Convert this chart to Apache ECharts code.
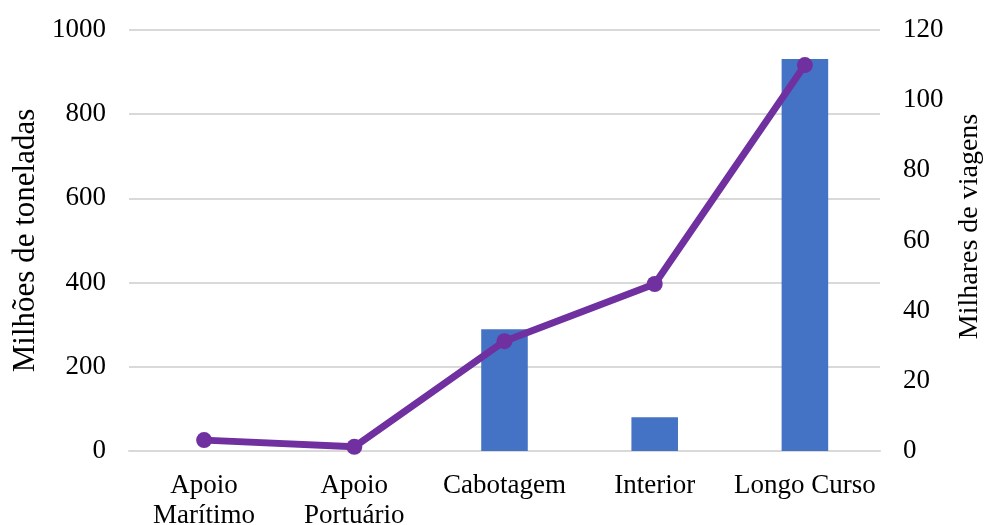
<!DOCTYPE html>
<html>
<head>
<meta charset="utf-8">
<script src="https://cdn.jsdelivr.net/npm/echarts@6/dist/echarts.min.js"></script>
<style>
html, body { margin: 0; padding: 0; background: #fff; }
#chart { width: 987px; height: 525px; }
</style>
</head>
<body>
<div id="chart"></div>
<script>
// Navigation types
const categories = ['Apoio\nMarítimo', 'Apoio\nPortuário', 'Cabotagem', 'Interior', 'Longo Curso'];
// Cargo handled (millions of tonnes)
const toneladas = [0, 0, 289, 80, 931];
// Trips (thousands)
const viagens = [3.1, 1.2, 31.3, 47.6, 110];

const leftTicks = { min: 0, max: 1000, interval: 200 };
const rightTicks = { min: 0, max: 120, interval: 20 };

const font = '"Liberation Serif", "Times New Roman", serif';

const chart = echarts.init(document.getElementById('chart'));
chart.setOption({
  animation: false,
  backgroundColor: '#ffffff',
  textStyle: { fontFamily: font },
  grid: { left: 129, right: 107, top: 30, bottom: 74, containLabel: false, outerBoundsMode: 'none' },
  xAxis: {
    type: 'category',
    data: categories,
    axisLine: { show: true, lineStyle: { color: '#d9d9d9', width: 2 } },
    axisTick: { show: false },
    axisLabel: { color: '#000', fontSize: 27, fontFamily: font, margin: 20, lineHeight: 30, interval: 0 }
  },
  yAxis: [
    {
      type: 'value',
      min: leftTicks.min, max: leftTicks.max, interval: leftTicks.interval,
      name: 'Milhões de toneladas',
      nameLocation: 'middle',
      nameGap: 88,
      nameRotate: 90,
      nameTextStyle: { color: '#000', fontSize: 31, fontFamily: font },
      axisLine: { show: false },
      axisTick: { show: false },
      axisLabel: { color: '#000', fontSize: 27, fontFamily: font, margin: 23, formatter: v => String(v) },
      splitLine: { lineStyle: { color: '#d9d9d9', width: 2 } }
    },
    {
      type: 'value',
      min: rightTicks.min, max: rightTicks.max, interval: rightTicks.interval,
      name: 'Milhares de viagens',
      nameLocation: 'middle',
      nameGap: 76,
      nameRotate: 90,
      nameTextStyle: { color: '#000', fontSize: 28, fontFamily: font, padding: [0, 0, 0, 28] },
      axisLine: { show: false },
      axisTick: { show: false },
      axisLabel: { color: '#000', fontSize: 27, fontFamily: font, margin: 23, formatter: v => String(v) },
      splitLine: { show: false }
    }
  ],
  series: [
    {
      type: 'bar',
      yAxisIndex: 0,
      data: toneladas,
      barWidth: '31%',
      itemStyle: { color: '#4472C4' }
    },
    {
      type: 'line',
      yAxisIndex: 1,
      data: viagens,
      symbol: 'circle',
      symbolSize: 16,
      lineStyle: { color: '#7030A0', width: 7 },
      itemStyle: { color: '#7030A0' }
    }
  ]
});
</script>
</body>
</html>
